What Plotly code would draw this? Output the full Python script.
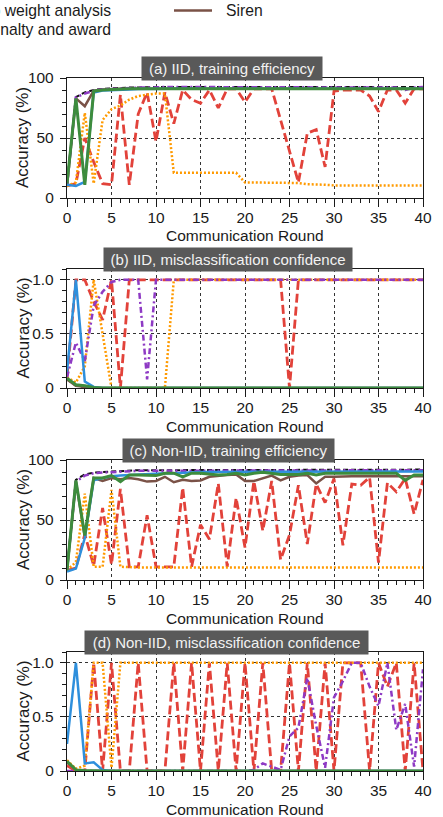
import plotly.graph_objects as go

rounds = list(range(41))

# ---------------- (a) IID, training efficiency (accuracy, %) ----------------
a_no_attack = [10, 84, 88, 90, 91, 91.5, 92, 92, 92, 92.5, 92.5, 92.5, 92.5, 92.5, 92.5, 92.5, 92.5,
               92.5, 92.5, 92.5, 92.5, 92.5, 92.5, 92.5, 92.5, 92.5, 92.5, 92.5, 92.5, 92.5, 92.5,
               92.5, 92.5, 92.5, 92.5, 92.5, 92.5, 92.5, 92.5, 92.5, 92.5]
a_siren = [10, 83, 76.5, 89.5, 90.5, 91, 91, 91, 91, 91, 91, 91, 91, 91, 91, 91, 91, 91, 91, 91, 91,
           91, 91, 91, 91, 91, 91, 91, 91, 91, 91, 91, 91, 91, 91, 91, 91, 91, 91, 91, 91]
a_no_defense = [11, 10, 13.5, 88, 89.5, 90, 90.5, 90.5, 90.8, 91, 91, 91, 91, 91, 91, 91, 91, 91,
                91, 91, 91, 91, 91, 91, 91, 91, 91, 91, 91, 91, 91, 91, 91, 91, 91, 91, 91, 91, 91,
                91, 91]
a_krum = [10, 12, 50, 30, 12, 11, 86, 11, 70, 88, 47, 88, 62, 90, 82, 79, 90, 75, 91, 91, 80, 91,
          91, 91, 65, 40, 13, 54, 57, 26, 89, 90, 90, 90, 85, 72, 90, 90, 79, 91, 91]
a_median = [10, 13, 71, 12, 65, 74, 77, 82, 85, 86, 87, 87, 21, 21, 21, 21, 21, 21, 21, 21, 13, 13,
            13, 13, 13, 13, 12.5, 11.5, 11.5, 11, 10.5, 10.5, 10.5, 10.5, 10.5, 10.5, 10.5, 10.5,
            10.5, 10.5, 10.5]
a_weight = [10, 84, 87, 89.5, 90.5, 91, 91.5, 92, 92, 92, 92.5, 92.5, 92.5, 92.5, 92.5, 92.5, 92.5,
            92.5, 92.5, 92.5, 92.5, 92.5, 92.5, 92.5, 92.5, 92.5, 92.5, 92.5, 92.5, 92.5, 92.5,
            92.5, 92.5, 92.5, 92.5, 92.5, 92.5, 92, 90, 92, 92.5]
a_penalty = [12, 83, 11, 89, 90, 90.5, 90.8, 91, 91, 91, 91, 91, 91, 91, 91, 91, 91, 91, 91, 91, 91,
             91, 91, 91, 91, 91, 91, 91, 91, 91, 91, 91, 91, 91, 91, 91, 91, 91, 91, 91, 91]

# ---------------- (b) IID, misclassification confidence ----------------
b_no_attack = [0.08, 0.02, 0.01, 0, 0, 0, 0, 0, 0, 0, 0, 0, 0, 0, 0, 0, 0, 0, 0, 0, 0, 0, 0, 0, 0,
               0, 0, 0, 0, 0, 0, 0, 0, 0, 0, 0, 0, 0, 0, 0, 0]
b_siren = [0.08, 0.02, 0.01, 0, 0, 0, 0, 0, 0, 0, 0, 0, 0, 0, 0, 0, 0, 0, 0, 0, 0, 0, 0, 0, 0, 0, 0,
           0, 0, 0, 0, 0, 0, 0, 0, 0, 0, 0, 0, 0, 0]
b_no_defense = [0.15, 1.0, 0.06, 0.01, 0, 0, 0, 0, 0, 0, 0, 0, 0, 0, 0, 0, 0, 0, 0, 0, 0, 0, 0, 0, 0,
                0, 0, 0, 0, 0, 0, 0, 0, 0, 0, 0, 0, 0, 0, 0, 0]
b_krum = [0.1, 1.0, 1.0, 0.8, 0.63, 1.0, 0.0, 1.0, 1.0, 1.0, 1.0, 1.0, 1.0, 1.0, 1.0, 1.0, 1.0, 1.0,
          1.0, 1.0, 1.0, 1.0, 1.0, 1.0, 1.0, 0.0, 1.0, 1.0, 1.0, 1.0, 1.0, 1.0, 1.0, 1.0, 1.0, 1.0,
          1.0, 1.0, 1.0, 1.0, 1.0]
b_median = [0.1, 0.05, 0.2, 1.0, 0.5, 0.0, 0, 0, 0, 0, 0, 0.0, 1.0, 1.0, 1.0, 1.0, 1.0, 1.0, 1.0,
            1.0, 1.0, 1.0, 1.0, 1.0, 1.0, 1.0, 1.0, 1.0, 1.0, 1.0, 1.0, 1.0, 1.0, 1.0, 1.0, 1.0, 1.0,
            1.0, 1.0, 1.0, 1.0]
b_weight = [0.1, 0.42, 0.25, 0.76, 0.89, 0.98, 1.0, 1.0, 1.0, 0.08, 1.0, 1.0, 1.0, 1.0, 1.0, 1.0,
            1.0, 1.0, 1.0, 1.0, 1.0, 1.0, 1.0, 1.0, 1.0, 1.0, 1.0, 1.0, 1.0, 1.0, 1.0, 1.0, 1.0,
            1.0, 1.0, 1.0, 1.0, 1.0, 1.0, 1.0, 1.0]
b_penalty = [0.09, 0.03, 0.02, 0.005, 0, 0, 0, 0, 0, 0, 0, 0, 0, 0, 0, 0, 0, 0, 0, 0, 0, 0, 0, 0, 0,
             0, 0, 0, 0, 0, 0, 0, 0, 0, 0, 0, 0, 0, 0, 0, 0]

# ---------------- (c) Non-IID, training efficiency (accuracy, %) ----------------
c_no_attack = [8, 83.5, 88, 89.5, 90, 90.5, 91, 91, 91.5, 91.5, 91.5, 92, 92, 92, 92, 92, 92, 92,
               92, 92, 92, 92, 92, 92, 92, 92, 92, 92, 92, 92, 92, 92, 92, 92, 92, 92, 92, 92, 92,
               92, 92]
c_siren = [8, 82, 36, 85, 82.5, 85, 84, 85, 84, 82, 82.5, 86, 81.5, 83.5, 82.5, 83, 86, 87, 87.5, 88,
           82.5, 82.5, 84.5, 87, 83, 86, 87, 87.5, 80.5, 86, 86, 86.5, 86.5, 86.5, 86.5, 86.5,
           86.5, 86.5, 86.5, 86.5, 86.5]
c_no_defense = [7, 9.5, 35, 83, 85, 86.5, 87, 87.5, 88, 88, 88.5, 89, 89, 89.5, 89.5, 90, 90, 90, 90,
                90, 90.5, 90.5, 90.5, 90.5, 90.5, 90.5, 90.5, 90.5, 90.5, 90.5, 90.5, 90.5, 90.5,
                90.5, 90.5, 90.5, 90.5, 90.5, 90.5, 90.5, 90.5]
c_krum = [8, 10, 38, 12, 60, 13, 76, 11, 11, 54, 11, 11, 11, 77, 11, 46, 34, 80.5, 11, 68.5, 27,
          82.5, 41, 82.5, 17, 37.5, 79, 30, 80, 64.5, 84.5, 29, 80, 79, 85.5, 14.5, 81, 73.5, 84.5,
          55, 83.5]
c_median = [8, 15, 72, 11, 11, 75, 11, 10.5, 10.5, 10.5, 10.5, 10.5, 10.5, 10.5, 10.5, 10.5, 10.5,
            10.5, 10.5, 10.5, 10.5, 10.5, 10.5, 10.5, 10.5, 10.5, 10.5, 10.5, 10.5, 10.5, 10.5,
            10.5, 10.5, 10.5, 10.5, 10.5, 10.5, 10.5, 10.5, 10.5, 10.5]
c_weight = [8, 82, 87, 89, 89.5, 90, 90.5, 90.5, 91, 91, 91, 91, 91.5, 91.5, 91.5, 91.5, 91.5, 91.5,
            91.5, 91.5, 91.5, 91.5, 91.5, 91.5, 91.5, 91.5, 91.5, 91.5, 91.5, 91.5, 91.5, 91.5,
            91.5, 91.5, 91.5, 91.5, 91.5, 91.5, 91.5, 91.5, 91.5]
c_penalty = [8, 83, 37, 85, 85, 87, 82, 87.5, 87.5, 87.5, 87, 89, 89, 86, 89, 89, 88, 87.5, 88, 89,
             87.5, 89, 89.7, 89, 88, 88, 88, 89, 87.5, 89, 89, 89, 89, 89, 88.5, 89, 88.5, 89, 83,
             87.5, 87.5]

# ---------------- (d) Non-IID, misclassification confidence ----------------
d_no_attack = [0.08, 0.01, 0, 0, 0, 0, 0, 0, 0, 0, 0, 0, 0, 0, 0, 0, 0, 0, 0, 0, 0, 0, 0, 0, 0, 0,
               0, 0, 0, 0, 0, 0, 0, 0, 0, 0, 0, 0, 0, 0, 0]
d_siren = [0.08, 0.01, 0, 0, 0, 0, 0, 0, 0, 0, 0, 0, 0, 0, 0, 0, 0, 0, 0, 0, 0, 0, 0, 0, 0, 0, 0, 0,
           0, 0, 0, 0, 0, 0, 0, 0, 0, 0, 0, 0, 0]
d_no_defense = [0.25, 1.0, 0.07, 0.08, 0.01, 0, 0, 0, 0, 0, 0, 0, 0, 0, 0, 0, 0, 0, 0, 0, 0, 0, 0,
                0, 0, 0, 0, 0, 0, 0, 0, 0, 0, 0, 0, 0, 0, 0, 0, 0, 0]
d_krum = [0.05, 0, 0, 1, 0, 1, 0, 0, 1, 0, 0, 0, 1, 0, 1, 0, 1, 0, 1, 0, 1, 0, 1, 0, 0, 1, 0, 1, 0,
          1, 0, 1, 1, 1, 0, 1, 0.78, 1, 0, 1, 0]
d_median = [0.1, 0.02, 0.05, 1.0, 1.0, 0.03, 1.0, 1.0, 1.0, 1.0, 1.0, 1.0, 1.0, 1.0, 1.0, 1.0, 1.0,
            1.0, 1.0, 1.0, 1.0, 1.0, 1.0, 1.0, 1.0, 1.0, 1.0, 1.0, 1.0, 1.0, 1.0, 1.0, 1.0, 1.0,
            1.0, 1.0, 1.0, 1.0, 1.0, 1.0, 1.0]
d_weight = [0, 0, 0, 0, 0, 0, 0, 0, 0, 0, 0, 0, 0, 0, 0, 0, 0, 0, 0, 0, 0, 0.01, 0.07, 0.04, 0.01,
            0.32, 0.4, 0.86, 0.42, 0.03, 0.68, 0.83, 1.0, 1.0, 0.78, 0.6, 1.0, 0.38, 0.62, 0.04, 0.94]
d_penalty = [0.09, 0.01, 0.005, 0, 0, 0, 0, 0, 0, 0, 0, 0, 0, 0, 0, 0, 0, 0, 0, 0, 0, 0, 0, 0, 0,
             0, 0, 0, 0, 0, 0, 0, 0, 0, 0, 0, 0, 0, 0, 0, 0]

panel_titles = ["(a) IID, training efficiency",
                "(b) IID, misclassification confidence",
                "(c) Non-IID, training efficiency",
                "(d) Non-IID, misclassification confidence"]
x_title = "Communication Round"
y_title = "Accuracy (%)"

# Series styles, drawn in this order (last on top)
styles = {
    "No attack": dict(color="#111111", width=2, dash="5px,3px"),
    "Siren": dict(color="#7a5247", width=2.5, dash="solid"),
    "Krum": dict(color="#e2423a", width=2.8, dash="9px,4px"),
    "Median": dict(color="#ff9a00", width=2.5, dash="2px,2px"),
    "Siren w/o penalty and award": dict(color="#8e3ac4", width=2.5, dash="6px,3px,2px,3px"),
    "No defense": dict(color="#2e8fdc", width=2.5, dash="solid"),
    "Siren w/o weight analysis": dict(color="#3d8c3d", width=3, dash="solid"),
}

panels = [
    {"No attack": a_no_attack, "Siren": a_siren, "Krum": a_krum, "Median": a_median,
     "Siren w/o penalty and award": a_weight, "No defense": a_no_defense,
     "Siren w/o weight analysis": a_penalty},
    {"No attack": b_no_attack, "Siren": b_siren, "Krum": b_krum, "Median": b_median,
     "Siren w/o penalty and award": b_weight, "No defense": b_no_defense,
     "Siren w/o weight analysis": b_penalty},
    {"No attack": c_no_attack, "Siren": c_siren, "Krum": c_krum, "Median": c_median,
     "Siren w/o penalty and award": c_weight, "No defense": c_no_defense,
     "Siren w/o weight analysis": c_penalty},
    {"No attack": d_no_attack, "Siren": d_siren, "Krum": d_krum, "Median": d_median,
     "Siren w/o penalty and award": d_weight, "No defense": d_no_defense,
     "Siren w/o weight analysis": d_penalty},
]

W, H = 443, 817
ML, MR, MT, MB = 67, 20, 78, 46
PW, PH = W - ML - MR, H - MT - MB


def px_x(px):
    return (px - ML) / PW


def px_y(py):
    return (H - MB - py) / PH


# pixel top/bottom of each plotting area
plot_rows = [(78, 198), (269, 388), (460, 580), (652, 771)]
title_boxes = [(232, 176), (228, 244), (228.5, 207), (226.5, 279)]

FONT = "Liberation Sans, Arial, Helvetica, sans-serif"
INK = "#1a1a1a"
FS = 15.5

fig = go.Figure()
layout = dict(
    width=W, height=H,
    margin=dict(l=ML, r=MR, t=MT, b=MB, pad=0, autoexpand=False),
    paper_bgcolor="white", plot_bgcolor="white",
    font=dict(family=FONT, size=FS, color=INK),
    showlegend=False,
    annotations=[], shapes=[],
)

for i, series in enumerate(panels):
    sfx = "" if i == 0 else str(i + 1)
    for name, vals in series.items():
        st = styles[name]
        fig.add_trace(go.Scatter(
            x=rounds, y=vals, name=name, mode="lines",
            xaxis="x" + sfx, yaxis="y" + sfx,
            line=dict(color=st["color"], width=st["width"], dash=st["dash"]),
        ))
    top, bot = plot_rows[i]
    pct = i in (0, 2)
    layout["xaxis" + sfx] = dict(
        anchor="y" + sfx, domain=[0, 1], range=[0, 40], automargin=False,
        tick0=0, dtick=5, ticks="outside", ticklen=8, tickwidth=1.2, tickcolor=INK,
        ticklabelstandoff=-3,
        minor=dict(dtick=1, tick0=0, ticks="outside", ticklen=4, tickwidth=1, tickcolor=INK,
                   showgrid=False),
        showline=True, linecolor=INK, linewidth=1.3, mirror=True,
        showgrid=True, gridcolor="#333333", griddash="dot", gridwidth=1, zeroline=False,
        tickfont=dict(size=FS, color=INK),
    )
    layout["yaxis" + sfx] = dict(
        anchor="x" + sfx, domain=[px_y(bot), px_y(top)], automargin=False,
        range=[0, 100] if pct else [0, 1.1],
        tick0=0, dtick=50 if pct else 0.5,
        ticks="outside", ticklen=6, tickwidth=1.2, tickcolor=INK, ticklabelstandoff=3,
        minor=dict(dtick=10 if pct else 0.1, tick0=0, ticks="outside", ticklen=4, tickwidth=1,
                   tickcolor=INK, showgrid=False),
        showline=True, linecolor=INK, linewidth=1.3, mirror=True,
        showgrid=True, gridcolor="#333333", griddash="dot", gridwidth=1, zeroline=False,
        tickfont=dict(size=FS, color=INK),
        labelalias={} if pct else {"1": "1.0"},
    )
    # axis titles
    layout["annotations"].append(dict(
        text=x_title, xref="paper", yref="paper", x=0.5, y=px_y(bot + 38),
        xanchor="center", yanchor="middle", showarrow=False, font=dict(size=FS, color=INK),
    ))
    layout["annotations"].append(dict(
        text=y_title, xref="paper", yref="paper", x=px_x(23), y=px_y((top + bot) / 2),
        xanchor="center", yanchor="middle", textangle=-90, showarrow=False,
        font=dict(size=17, color=INK),
    ))
    # panel title box
    cx, bw = title_boxes[i]
    layout["annotations"].append(dict(
        text=panel_titles[i], xref="paper", yref="paper",
        x=px_x(cx), y=px_y(top), xanchor="center", yanchor="middle", yshift=10,
        showarrow=False, bgcolor="#595959", borderpad=2, width=bw, height=19,
        font=dict(size=15, color="#f2f2f2", family=FONT),
    ))

# Legend (upper part of the figure)
legend_font = dict(size=15.7, color=INK, family=FONT)
layout["annotations"] += [
    dict(text="Siren w/o weight analysis", xref="paper", yref="paper", x=px_x(113), y=px_y(11),
         xanchor="right", yanchor="middle", showarrow=False, font=legend_font),
    dict(text="Siren w/o penalty and award", xref="paper", yref="paper", x=px_x(113), y=px_y(30),
         xanchor="right", yanchor="middle", showarrow=False, font=legend_font),
    dict(text="Siren", xref="paper", yref="paper", x=px_x(224), y=px_y(11),
         xanchor="left", yanchor="middle", showarrow=False, font=legend_font),
]
layout["shapes"].append(dict(
    type="line", xref="paper", yref="paper", x0=px_x(174), x1=px_x(212),
    y0=px_y(10.5), y1=px_y(10.5), line=dict(color=styles["Siren"]["color"], width=2.5),
))

fig.update_layout(**layout)
fig.write_html("out.html")
